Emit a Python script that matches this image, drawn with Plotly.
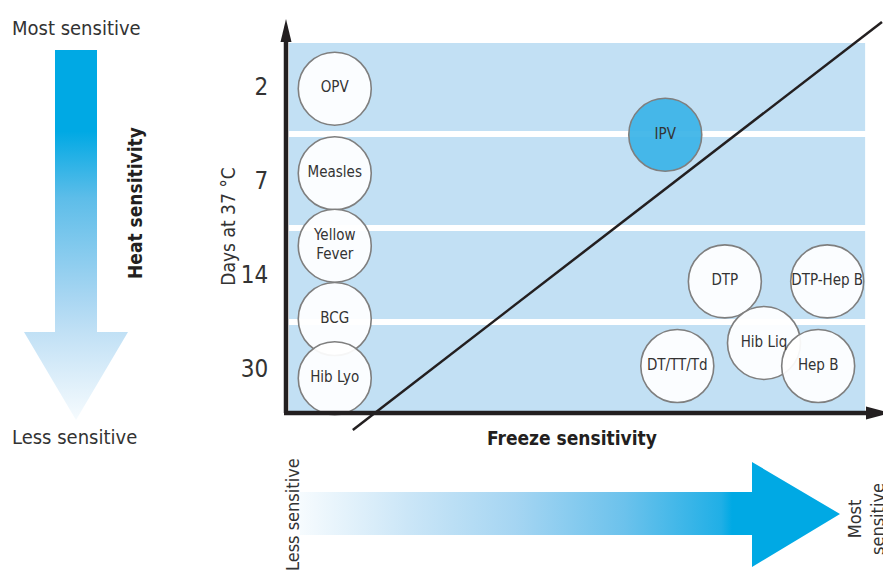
import plotly.graph_objects as go

# page body has an 8px margin: draw in reference pixel coordinates via offset
OFF = 8
W, H = 891 - OFF, 573 - OFF

# ---------------- data ----------------
vaccines = ["OPV", "Measles", "Yellow<br>Fever", "BCG", "Hib Lyo",
            "IPV", "DTP", "DTP-Hep B", "Hib Liq", "DT/TT/Td", "Hep B"]
freeze_score = [8.1, 8.1, 8.1, 8.1, 8.1, 63.0, 72.9, 89.9, 79.4, 65.0, 88.4]
heat_score = [3.45, 2.55, 1.78, 1.00, 0.37, 2.96, 1.40, 1.40, 0.745, 0.50, 0.50]
highlight = ["IPV"]

days_labels = ["30", "14", "7", "2"]
band_index = [0, 1, 2, 3]

divider_x = [11.1, 99.0]
divider_y = [-0.18, 4.16]

# ---------------- styling ----------------
FONT = "Liberation Sans Narrow, DejaVu Sans Condensed, sans-serif"
TXT = "#333333"
DARK = "#231f20"
BAND = "#c2e0f4"
CYAN = "#00a9e4"

PX_PER_X = 6.02
PX_PER_Y = 94.0
x0_px, y0_px = 286, 413         # reference pixel of data origin
left_px, right_px = 286, 890
top_px, bot_px = 18, 435

fig = go.Figure()

# bands (one per days category)
for i in band_index:
    fig.add_shape(type="rect", xref="x", yref="y",
                  x0=0.5, x1=96.2, y0=0.02 if i == 0 else i, y1=i + 0.935,
                  fillcolor=BAND, line_width=0, layer="below")

# diagonal divider
fig.add_trace(go.Scatter(x=divider_x, y=divider_y, mode="lines",
                         line=dict(color=DARK, width=2.5), hoverinfo="skip",
                         showlegend=False, xaxis="x", yaxis="y"))

# vaccine circles
fill_cols = ["rgba(59,180,231,0.93)" if v in highlight else "rgba(255,255,255,0.93)"
             for v in vaccines]
fig.add_trace(go.Scatter(
    x=freeze_score, y=heat_score, mode="markers+text", text=vaccines,
    textposition="middle center",
    textfont=dict(family=FONT, size=15, color=TXT),
    marker=dict(size=73, color=fill_cols, line=dict(color="#7f7f7f", width=1.6)),
    cliponaxis=False, showlegend=False, hoverinfo="text", xaxis="x", yaxis="y"))

# ---------------- decorations in pixel space ----------------
def px(xs, ys, **kw):
    fig.add_trace(go.Scatter(x=xs, y=ys, xaxis="x2", yaxis="y2", showlegend=False,
                             hoverinfo="skip", **kw))

# heat arrow (vertical) - colorscale 0 = bottom
px([55, 97, 97, 128, 76, 24, 55, 55], [50, 50, 332, 332, 420, 332, 332, 50],
   mode="lines", line=dict(width=0), fill="toself",
   fillgradient=dict(type="vertical",
                     colorscale=[[0, "#f6fbfe"], [0.24, "#c0e0f5"], [0.33, "#a8d6f2"],
                                 [0.6, "#5dbde9"], [0.78, CYAN], [1, CYAN]]))
# freeze arrow (horizontal)
px([300, 752, 752, 840, 752, 752, 300, 300], [492, 492, 462, 514, 567, 535, 535, 492],
   mode="lines", line=dict(width=0), fill="toself",
   fillgradient=dict(type="horizontal",
                     colorscale=[[0, "#f6fbfe"], [0.2, "#cbe6f7"], [0.4, "#a5d5f2"],
                                 [0.6, "#6cc2ec"], [0.78, "#20afe6"], [0.8, CYAN], [1, CYAN]]))

# axis lines with arrowheads
px([286, 286], [413, 38], mode="lines", line=dict(color=DARK, width=4.5))
px([284, 868], [413, 413], mode="lines", line=dict(color=DARK, width=4.5))
px([280.5, 291.5, 286, 280.5], [42, 42, 19, 42], mode="lines",
   line=dict(width=0), fill="toself", fillcolor=DARK)
px([866, 866, 890, 866], [406.5, 419.5, 413, 406.5], mode="lines",
   line=dict(width=0), fill="toself", fillcolor=DARK)

# ---------------- annotations ----------------
def note(text, x, y, size=20, bold=False, angle=0, color=TXT):
    fig.add_annotation(xref="x2", yref="y2", x=x, y=y, text=f"<b>{text}</b>" if bold else text,
                       showarrow=False, textangle=angle, align="center",
                       font=dict(family=FONT, size=size, color=color),
                       xanchor="center", yanchor="middle")

note("Most sensitive", 76, 28)
note("Less sensitive", 74, 437)
note("Heat sensitivity", 135, 203, size=19, bold=True, angle=-90, color=DARK)
note("Freeze sensitivity", 572, 438, size=19, bold=True, color=DARK)
note("Less sensitive", 292, 515, size=18, angle=-90)
note("Most<br>sensitive", 866, 519, size=18, angle=-90)

fig.update_layout(
    width=W, height=H, margin=dict(l=0, r=0, t=0, b=0),
    paper_bgcolor="white", plot_bgcolor="rgba(0,0,0,0)",
    font=dict(family=FONT, color=TXT),
    xaxis=dict(domain=[(left_px - OFF) / W, min(1, (right_px - OFF) / W)],
               range=[0, (right_px - x0_px) / PX_PER_X],
               showgrid=False, zeroline=False, showline=False, showticklabels=False,
               fixedrange=True),
    yaxis=dict(domain=[(H + OFF - bot_px) / H, (H + OFF - top_px) / H],
               range=[(y0_px - bot_px) / PX_PER_Y, (y0_px - top_px) / PX_PER_Y],
               tickvals=[i + 0.47 for i in band_index], ticktext=days_labels,
               tickfont=dict(family=FONT, size=24, color=TXT),
               ticks="outside", ticklen=12, tickcolor="rgba(0,0,0,0)",
               showgrid=False, zeroline=False, showline=False,
               title=dict(text="Days at 37 °C", standoff=0,
                          font=dict(family=FONT, size=19, color=TXT)),
               fixedrange=True),
    xaxis2=dict(domain=[0, 1], range=[OFF, OFF + W], visible=False, fixedrange=True),
    yaxis2=dict(domain=[0, 1], range=[OFF + H, OFF], visible=False, fixedrange=True),
)

fig.write_html("out.html")
